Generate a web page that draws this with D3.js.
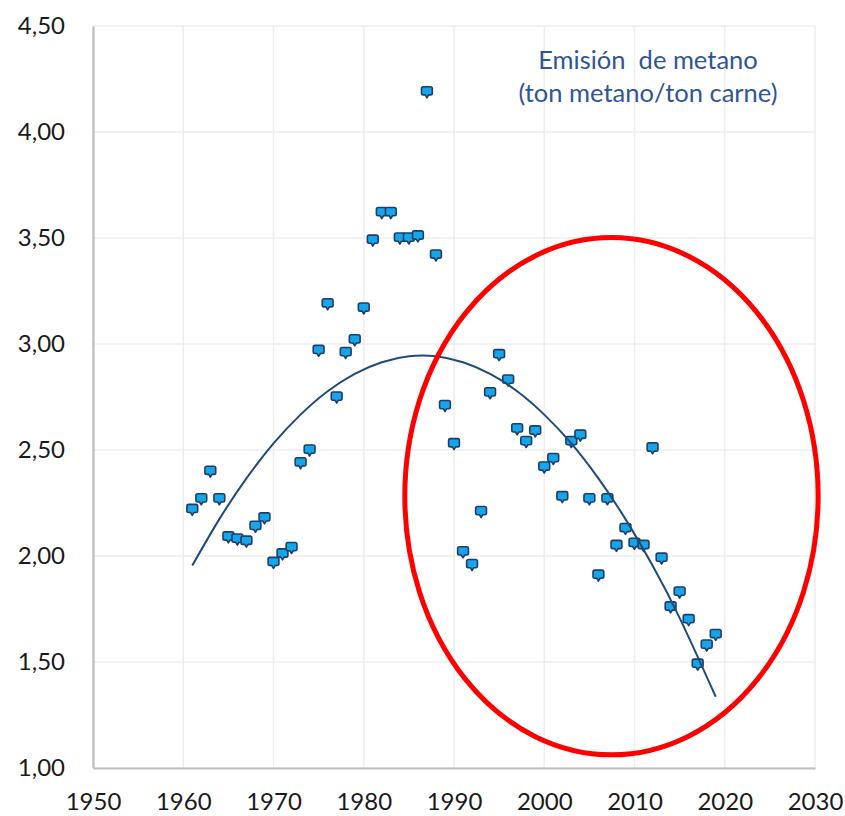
<!DOCTYPE html>
<html>
<head>
<meta charset="utf-8">
<script src="https://cdn.jsdelivr.net/npm/d3@7"></script>
<style>
  html, body { margin: 0; padding: 0; background: #ffffff; }
  svg { display: block; }
  .tick text { font-family: Lato, "Open Sans", sans-serif; fill: #1a1a1a; }
</style>
</head>
<body>
<svg id="chart" width="845" height="816"></svg>
<script>
// Methane emission per ton of beef, by year
const years = [
  1961, 1962, 1963, 1964, 1965, 1966, 1967, 1968, 1969, 1970,
  1971, 1972, 1973, 1974, 1975, 1976, 1977, 1978, 1979, 1980,
  1981, 1982, 1983, 1984, 1985, 1986, 1987, 1988, 1989, 1990,
  1991, 1992, 1993, 1994, 1995, 1996, 1997, 1998, 1999, 2000,
  2001, 2002, 2003, 2004, 2005, 2006, 2007, 2008, 2009, 2010,
  2011, 2012, 2013, 2014, 2015, 2016, 2017, 2018, 2019
];
const emission = [
  2.22, 2.27, 2.40, 2.27, 2.09, 2.08, 2.07, 2.14, 2.18, 1.97,
  2.01, 2.04, 2.44, 2.50, 2.97, 3.19, 2.75, 2.96, 3.02, 3.17,
  3.49, 3.62, 3.62, 3.50, 3.50, 3.51, 4.19, 3.42, 2.71, 2.53,
  2.02, 1.96, 2.21, 2.77, 2.95, 2.83, 2.60, 2.54, 2.59, 2.42,
  2.46, 2.28, 2.54, 2.57, 2.27, 1.91, 2.27, 2.05, 2.13, 2.06,
  2.05, 2.51, 1.99, 1.76, 1.83, 1.70, 1.49, 1.58, 1.63
];

// Polynomial trend line, sampled along the curve
const trendYears = [1961, 1964, 1967, 1970, 1973, 1976, 1979, 1982, 1985, 1988,
                    1991, 1994, 1997, 2000, 2003, 2006, 2009, 2012, 2015, 2019];
const trendValues = [1.955, 2.174, 2.366, 2.531, 2.667, 2.777, 2.859, 2.914, 2.942, 2.942,
                     2.914, 2.859, 2.777, 2.667, 2.531, 2.366, 2.174, 1.955, 1.708, 1.336];

// Axis ticks
const xTicks = [1950, 1960, 1970, 1980, 1990, 2000, 2010, 2020, 2030];
const yTicks = [1.00, 1.50, 2.00, 2.50, 3.00, 3.50, 4.00, 4.50];

// Highlighted period (ellipse in data units: centre year/value, radii)
const highlight = { year: 2007.45, value: 2.282, rYears: 22.9, rValue: 1.22 };

const titleLines = ["Emisión  de metano", "(ton metano/ton carne)"];

const svg = d3.select("#chart");
const margin = { left: 93, right: 30, top: 26, bottom: 48 };
const W = 845, H = 816;

const x = d3.scaleLinear().domain([1950, 2030]).range([margin.left, W - margin.right]);
const y = d3.scaleLinear().domain([1, 4.5]).range([H - margin.bottom, margin.top]);

const esLocale = d3.formatLocale({ decimal: ",", thousands: ".", grouping: [3], currency: ["", " €"] });
const fmt = esLocale.format(".2f");

// Gridlines
const grid = svg.append("g").attr("stroke", "#eeeeee").attr("stroke-width", 1.5);
grid.selectAll("line.h").data(yTicks).join("line").attr("class", "h")
  .attr("x1", x(1950)).attr("x2", x(2030))
  .attr("y1", d => y(d)).attr("y2", d => y(d));
grid.selectAll("line.v").data(xTicks).join("line").attr("class", "v")
  .attr("x1", d => x(d)).attr("x2", d => x(d))
  .attr("y1", y(1)).attr("y2", y(4.5));

// Axes
const yAxis = svg.append("g")
  .attr("transform", `translate(${x(1950)},0)`)
  .call(d3.axisLeft(y).tickValues(yTicks).tickFormat(fmt).tickSize(0).tickPadding(28));
const xAxis = svg.append("g")
  .attr("transform", `translate(0,${y(1)})`)
  .call(d3.axisBottom(x).tickValues(xTicks).tickFormat(d3.format("d")).tickSize(0).tickPadding(25));
[yAxis, xAxis].forEach(a => {
  a.select(".domain").attr("stroke", "#bfbfbf").attr("stroke-width", 2.2);
  a.selectAll(".tick text").attr("font-size", 24);
});

// Data markers: rounded tag shape
const markerPath = "M-5.4,-3.2 Q-5.4,-5 -3.6,-5 L3.6,-5 Q5.4,-5 5.4,-3.2 L5.4,1.5 Q5.4,3.2 3.6,3.2 L1.7,3.2 L0,6 L-1.7,3.2 L-3.6,3.2 Q-5.4,3.2 -5.4,1.5 Z";
const points = years.map((yr, i) => ({ year: yr, value: emission[i] }));
svg.append("g").selectAll("path").data(points).join("path")
  .attr("d", markerPath)
  .attr("transform", d => `translate(${x(d.year)},${y(d.value)})`)
  .attr("fill", "#15a5e9")
  .attr("stroke", "#1f3d6b")
  .attr("stroke-width", 1.6)
  .attr("stroke-linejoin", "round");

// Trend line
const trend = trendYears.map((yr, i) => [yr, trendValues[i]]);
svg.append("path")
  .datum(trend)
  .attr("d", d3.line().x(d => x(d[0])).y(d => y(d[1])).curve(d3.curveNatural))
  .attr("fill", "none")
  .attr("stroke", "#1f4a7c")
  .attr("stroke-width", 2);

// Red ellipse around the recent period
svg.append("ellipse")
  .attr("cx", x(highlight.year))
  .attr("cy", y(highlight.value))
  .attr("rx", x(highlight.year + highlight.rYears) - x(highlight.year))
  .attr("ry", y(highlight.value) - y(highlight.value + highlight.rValue))
  .attr("fill", "none")
  .attr("stroke", "#ff0000")
  .attr("stroke-width", 5);

// Annotation
const note = svg.append("text")
  .attr("x", 648).attr("y", 69)
  .attr("text-anchor", "middle")
  .attr("font-family", "Lato, 'Open Sans', sans-serif")
  .attr("font-size", 25.5)
  .attr("fill", "#2f5597")
  .style("white-space", "pre");
note.selectAll("tspan").data(titleLines).join("tspan")
  .attr("x", 648)
  .attr("dy", (d, i) => i === 0 ? 0 : 33)
  .text(d => d);
</script>
</body>
</html>
